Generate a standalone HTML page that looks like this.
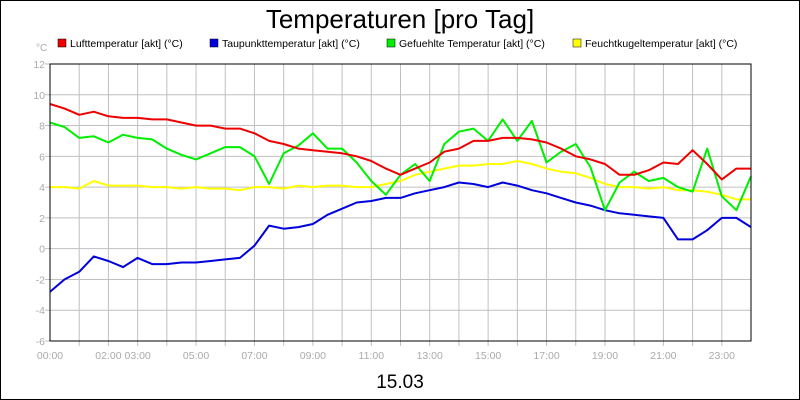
<!DOCTYPE html>
<html><head><meta charset="utf-8"><style>
body{margin:0;background:#fff}
svg{display:block;font-family:"Liberation Sans",sans-serif}
</style></head><body>
<svg id="chart" width="800" height="400">
<rect x="0.5" y="0.5" width="799" height="399" fill="#fff" stroke="#000"/>
<text x="400" y="28" font-size="26" text-anchor="middle">Temperaturen [pro Tag]</text>
<text x="36" y="51" font-size="10" fill="#aaa">°C</text>
<g id="grid"></g>
<g id="legend"></g>
<g id="series"></g>
<rect x="50" y="64" width="701" height="277" fill="none" stroke="#000"/>
<text x="400" y="388" font-size="19" text-anchor="middle">15.03</text>
</svg>
<script>
const hours=[0,0.5,1,1.5,2,2.5,3,3.5,4,4.5,5,5.5,6,6.5,7,7.5,8,8.5,9,9.5,10,10.5,11,11.5,12,12.5,13,13.5,14,14.5,15,15.5,16,16.5,17,17.5,18,18.5,19,19.5,20,20.5,21,21.5,22,22.5,23,23.5,24];
const luft=[9.4,9.1,8.7,8.9,8.6,8.5,8.5,8.4,8.4,8.2,8.0,8.0,7.8,7.8,7.5,7.0,6.8,6.5,6.4,6.3,6.2,6.0,5.7,5.2,4.8,5.2,5.6,6.3,6.5,7.0,7.0,7.2,7.2,7.1,6.9,6.5,6.0,5.8,5.5,4.8,4.8,5.1,5.6,5.5,6.4,5.5,4.5,5.2,5.2];
const taupunkt=[-2.8,-2.0,-1.5,-0.5,-0.8,-1.2,-0.6,-1.0,-1.0,-0.9,-0.9,-0.8,-0.7,-0.6,0.2,1.5,1.3,1.4,1.6,2.2,2.6,3.0,3.1,3.3,3.3,3.6,3.8,4.0,4.3,4.2,4.0,4.3,4.1,3.8,3.6,3.3,3.0,2.8,2.5,2.3,2.2,2.1,2.0,0.6,0.6,1.2,2.0,2.0,1.4];
const gefuehlt=[8.2,7.9,7.2,7.3,6.9,7.4,7.2,7.1,6.5,6.1,5.8,6.2,6.6,6.6,6.0,4.2,6.2,6.7,7.5,6.5,6.5,5.6,4.4,3.5,4.8,5.5,4.4,6.8,7.6,7.8,7.0,8.4,7.0,8.3,5.6,6.3,6.8,5.3,2.5,4.3,5.0,4.4,4.6,4.0,3.7,6.5,3.4,2.5,4.7];
const feucht=[4.0,4.0,3.9,4.4,4.1,4.1,4.1,4.0,4.0,3.9,4.0,3.9,3.9,3.8,4.0,4.0,3.9,4.1,4.0,4.1,4.1,4.0,4.0,4.2,4.4,4.8,5.0,5.2,5.4,5.4,5.5,5.5,5.7,5.5,5.2,5.0,4.9,4.6,4.2,4.0,4.0,3.9,4.0,3.8,3.8,3.7,3.5,3.2,3.2];
const yTicks=[-6,-4,-2,0,2,4,6,8,10,12];
const xTickHours=[0,2,3,5,7,9,11,13,15,17,19,21,23];
const xTickLabels=["00:00","02:00","03:00","05:00","07:00","09:00","11:00","13:00","15:00","17:00","19:00","21:00","23:00"];
const legendNames=["Lufttemperatur [akt] (°C)","Taupunkttemperatur [akt] (°C)","Gefuehlte Temperatur [akt] (°C)","Feuchtkugeltemperatur [akt] (°C)"];
const colors=["#ee0000","#0000dd","#00ee00","#ffff00"];
const NS="http://www.w3.org/2000/svg";
const X0=50,X1=751,Y0=341,Y1=64;
const xs=h=>X0+(X1-X0)*h/24;
const ys=v=>Y0-(Y0-Y1)*(v+6)/18;
const grid=document.getElementById('grid');
function mk(tag,attrs,parent){const e=document.createElementNS(NS,tag);for(const k in attrs)e.setAttribute(k,attrs[k]);parent.appendChild(e);return e;}
for(let h=1;h<24;h++){
  const l=mk('line',{x1:xs(h),x2:xs(h),y1:Y1,y2:Y0+5,stroke:'#c0c0c0'},grid);
  
  
}
yTicks.forEach(v=>{
  const l=mk('line',{x1:X0-5,x2:X1,y1:ys(v),y2:ys(v),stroke:'#c0c0c0'},grid);
  
  
  const t=mk('text',{x:X0-5,y:ys(v)+4,'font-size':10.5,fill:'#aaa','text-anchor':'end'},grid);
  t.textContent=v;
  
  
});
xTickHours.forEach((h,i)=>{
  const t=mk('text',{x:xs(h),y:359,'font-size':10.5,fill:'#aaa','text-anchor':'middle'},grid);
  t.textContent=xTickLabels[i];
  
  
});
const legend=document.getElementById('legend');
const lx=[58,210,387,573];
legendNames.forEach((n,i)=>{
  const r=mk('rect',{x:lx[i],y:39,width:8,height:8,fill:colors[i],stroke:'#000','stroke-width':0.5},legend);
  
  
  const t=mk('text',{x:lx[i]+12,y:47,'font-size':10.5},legend);
  t.textContent=n;
  
  
});
const series=document.getElementById('series');
[luft,taupunkt,gefuehlt,feucht].forEach((arr,i)=>{
  const d=arr.map((v,j)=>(j?'L':'M')+xs(hours[j]).toFixed(1)+' '+ys(v).toFixed(1)).join(' ');
  const p=mk('path',{d:d,fill:'none',stroke:colors[i],'stroke-width':2,'stroke-linejoin':'round'},series);
  
  
});
series.appendChild(series.children[2]);
series.appendChild(series.children[0]);
</script>
</body></html>
